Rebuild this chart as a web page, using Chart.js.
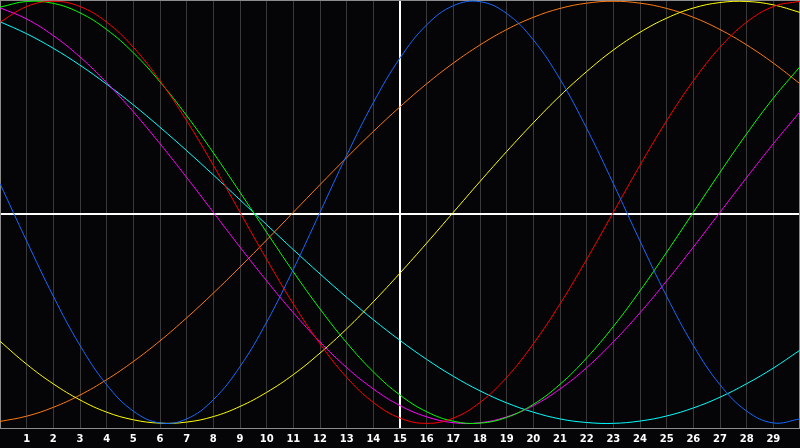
<!DOCTYPE html>
<html>
<head>
<meta charset="utf-8">
<title>Biorhythm</title>
<script src="https://cdn.jsdelivr.net/npm/chart.js@4.4.1/dist/chart.umd.min.js"></script>
<style>
    html, body { margin: 0; padding: 0; background: #050507; }
    #chart { display: block; }
</style>
</head>
<body>
<canvas id="chart" width="800" height="448"></canvas>
<script>
// Days shown on the axis (0 and 30 are the frame edges)
const days = [0, 1, 2, 3, 4, 5, 6, 7, 8, 9, 10, 11, 12, 13, 14, 15, 16, 17, 18, 19, 20, 21, 22, 23, 24, 25, 26, 27, 28, 29, 30];
const todayIndex = 15;

// Values, one per day
const physical = [0.136, -0.136, -0.398, -0.631, -0.817, -0.942, -0.998, -0.979, -0.888, -0.731, -0.520, -0.270, 0, 0.270, 0.520, 0.731, 0.888, 0.979, 0.998, 0.942, 0.817, 0.631, 0.398, 0.136, -0.136, -0.398, -0.631, -0.817, -0.942, -0.998, -0.979];
const emotional = [0.901, 0.975, 1, 0.975, 0.901, 0.782, 0.623, 0.434, 0.223, 0, -0.223, -0.434, -0.623, -0.782, -0.901, -0.975, -1, -0.975, -0.901, -0.782, -0.623, -0.434, -0.223, 0, 0.223, 0.434, 0.623, 0.782, 0.901, 0.975, 1];
const intellectual = [0.972, 0.999, 0.990, 0.945, 0.866, 0.756, 0.618, 0.458, 0.282, 0.095, -0.095, -0.282, -0.458, -0.618, -0.756, -0.866, -0.945, -0.990, -0.999, -0.972, -0.910, -0.815, -0.690, -0.541, -0.372, -0.189, 0, 0.189, 0.372, 0.541, 0.690];
const intuitive = [0.969, 0.916, 0.837, 0.736, 0.614, 0.476, 0.325, 0.165, 0, -0.165, -0.325, -0.476, -0.614, -0.736, -0.837, -0.916, -0.969, -0.997, -0.997, -0.969, -0.916, -0.837, -0.736, -0.614, -0.476, -0.325, -0.165, 0, 0.165, 0.325, 0.476];
const aesthetic = [-0.611, -0.720, -0.813, -0.889, -0.947, -0.983, -0.999, -0.994, -0.968, -0.920, -0.853, -0.769, -0.667, -0.552, -0.424, -0.288, -0.146, 0, 0.146, 0.288, 0.424, 0.552, 0.667, 0.769, 0.853, 0.920, 0.968, 0.994, 0.999, 0.983, 0.947];
const awareness = [-0.991, -0.966, -0.924, -0.866, -0.793, -0.707, -0.609, -0.500, -0.383, -0.259, -0.131, 0, 0.131, 0.259, 0.383, 0.500, 0.609, 0.707, 0.793, 0.866, 0.924, 0.966, 0.991, 1, 0.991, 0.966, 0.924, 0.866, 0.793, 0.707, 0.609];
const spiritual = [0.903, 0.846, 0.777, 0.697, 0.607, 0.509, 0.403, 0.292, 0.177, 0.059, -0.059, -0.177, -0.292, -0.403, -0.509, -0.607, -0.697, -0.777, -0.846, -0.903, -0.947, -0.979, -0.996, -1.000, -0.989, -0.965, -0.927, -0.876, -0.812, -0.738, -0.653];

function makeLine(values, color) {
    return {
        data: values,
        borderColor: color,
        borderWidth: 1,
        pointRadius: 0,
        pointBorderWidth: 0,
        pointHoverRadius: 0,
        fill: false,
        tension: 0.4
    };
}

// Black background, grey frame and the white zero line
const framePlugin = {
    id: 'frame',
    beforeDraw(chart) {
        const c = chart.ctx;
        c.save();
        c.fillStyle = '#050507';
        c.fillRect(0, 0, chart.width, chart.height);
        c.restore();
    },
    beforeDatasetsDraw(chart) {
        const c = chart.ctx;
        const a = chart.chartArea;
        const mid = Math.round((a.top + a.bottom) / 2);
        c.save();
        c.strokeStyle = '#ffffff';
        c.lineWidth = 2;
        c.beginPath();
        c.moveTo(a.left, mid);
        c.lineTo(a.right, mid);
        c.stroke();
        c.strokeStyle = '#8c8c8c';
        c.lineWidth = 1;
        c.strokeRect(a.left + 0.5, a.top + 0.5, a.right - a.left - 1, a.bottom - a.top);
        c.restore();
    }
};

new Chart(document.getElementById('chart'), {
    type: 'line',
    data: {
        labels: days,
        datasets: [
            makeLine(physical, '#1469ff'),
            makeLine(emotional, '#ff0000'),
            makeLine(intellectual, '#00ff00'),
            makeLine(intuitive, '#ff00ff'),
            makeLine(aesthetic, '#ffff00'),
            makeLine(awareness, '#ff7a10'),
            makeLine(spiritual, '#00ffff')
        ]
    },
    options: {
        responsive: false,
        animation: false,
        devicePixelRatio: 1,
        layout: { padding: 0, autoPadding: false },
        plugins: {
            legend: { display: false },
            tooltip: { enabled: false }
        },
        scales: {
            x: {
                type: 'category',
                offset: false,
                grid: {
                    // invisible tick marks only push the labels down
                    drawTicks: true,
                    tickLength: 5,
                    tickColor: 'rgba(0,0,0,0)',
                    color: (ctx) => ctx.tick && ctx.tick.value === todayIndex ? '#ffffff' : '#3a3a3a',
                    lineWidth: (ctx) => ctx.tick && ctx.tick.value === todayIndex ? 2 : 1
                },
                border: { display: false },
                ticks: {
                    color: '#ffffff',
                    font: { family: 'DejaVu Sans', size: 10, weight: 'bold' },
                    padding: 0,
                    autoSkip: false,
                    maxRotation: 0,
                    callback: function(value, index) {
                        if (index === 0 || index === days.length - 1) return '';
                        return this.getLabelForValue(value);
                    }
                },
                afterFit: (scale) => { scale.height = 20; }
            },
            y: {
                display: false,
                min: -1.022,
                max: 1.006
            }
        }
    },
    plugins: [framePlugin]
});
</script>
</body>
</html>
